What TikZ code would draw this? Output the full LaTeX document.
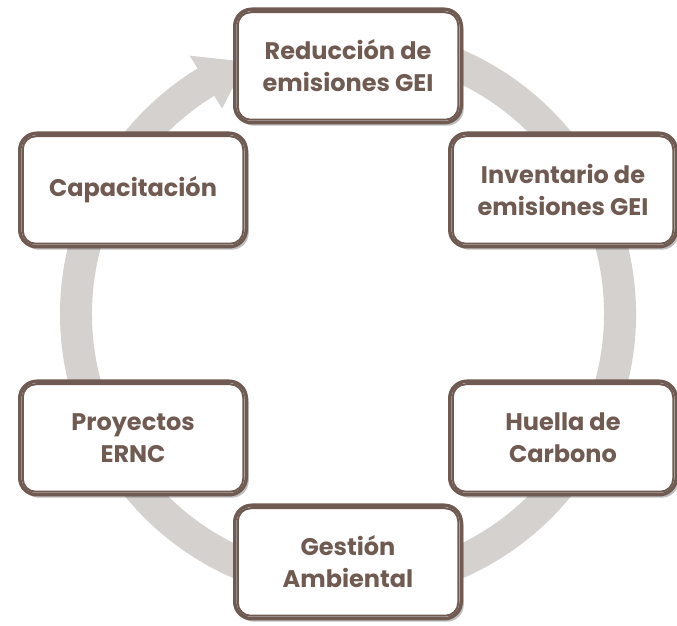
\documentclass[tikz,border=0pt]{standalone}
\usepackage{fontspec}
\setmainfont{Poppins}
\usetikzlibrary{shadows}
\definecolor{brownline}{RGB}{112,91,83}
\definecolor{ringgray}{RGB}{213,209,207}
\tikzset{
  cyclebox/.style={draw=brownline, line width=3.5pt, rounded corners=17pt, fill=white,
    minimum width=226.5pt, minimum height=113.5pt, inner sep=0pt, align=center,
    font=\bfseries\fontsize{24}{32}\selectfont, text=brownline,
    drop shadow={shadow xshift=2.5pt, shadow yshift=-3pt, opacity=0.25, fill=black}},
  innerline/.style={draw=brownline, line width=2pt, rounded corners=13pt},
  ring/.style={fill=ringgray}
}
\newcommand\cycbox[3]{%
  \node[cyclebox] (#1) at (#2) {#3};
  \draw[innerline] ([shift={(4.75pt,4.75pt)}]#1.south west) rectangle ([shift={(-4.75pt,-4.75pt)}]#1.north east);
}
\begin{document}
\begin{tikzpicture}[x=1pt,y=1pt]
\useasboundingbox (0,0) rectangle (677,626);
\fill[ring, shift={(348pt,312pt)}]
  (100:288pt) arc[start angle=100, end angle=-238.5, radius=288pt]
  -- (121.5:303pt) -- (112:272pt) -- (121.5:241pt) -- (121.5:256pt)
  arc[start angle=-238.5, end angle=100, radius=256pt] -- cycle;
\cycbox{red}{348,560}{Reducción de\\emisiones GEI}
\cycbox{inv}{563,436}{Inventario de\\emisiones GEI}
\cycbox{hue}{563,188}{Huella de\\Carbono}
\cycbox{ges}{348,64}{Gestión\\Ambiental}
\cycbox{pro}{133,188}{Proyectos\\ERNC}
\cycbox{cap}{133,436}{Capacitación}
\end{tikzpicture}
\end{document}
